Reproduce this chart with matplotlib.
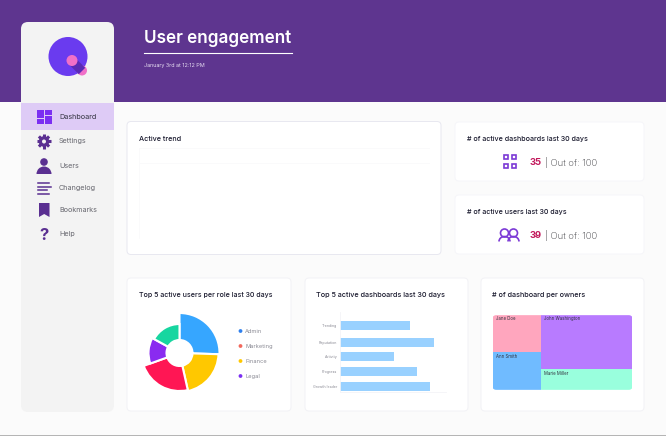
import numpy as np
import matplotlib
matplotlib.use('Agg')
import matplotlib.pyplot as plt
from matplotlib.patches import FancyBboxPatch, Rectangle, Circle, Polygon, Wedge, Arc

W, H = 666, 436
plt.rcParams['font.family'] = ['Inter', 'DejaVu Sans']

# pie
role_names = ['Admin', 'Finance', 'Marketing', 'Legal', 'Other']
role_values = [25.5, 21, 23, 13.5, 17]
role_radius = [40, 39, 38, 31, 29]
role_colors = ['#36A6FF', '#FFC800', '#FF1654', '#8A2BF0', '#17D6A0']
legend_names = ['Admin', 'Marketing', 'Finance', 'Legal']
legend_colors = ['#2F80ED', '#F2685C', '#FFC800', '#7B2FF2']

# bars
dash_names = ['Trending', 'Reputation', 'Activity', 'Progress', 'Growth leader']
dash_values = [70, 94, 54, 77, 90]

# treemap
owner_names = ['Jane Doe', 'Ann Smith', 'John Washington', 'Marie Miller']
owner_values = [18, 18.5, 50, 20]
owner_colors = ['#FFA6BE', '#70BBFF', '#B87BFF', '#99FFDD']

nav_items = ['Dashboard', 'Settings', 'Users', 'Changelog', 'Bookmarks', 'Help']
nav_y = [117, 141, 166, 188, 210, 234]

PURPLE = '#5E358F'
ICON = '#5A2F91'

fig = plt.figure(figsize=(W / 100, H / 100), dpi=100, facecolor='#FBFBFB')
bg = fig.add_axes([0, 0, 1, 1])
bg.set_xlim(0, W)
bg.set_ylim(H, 0)
bg.axis('off')


def inset(x0, y0, x1, y1, **kw):
    return fig.add_axes([x0 / W, 1 - y1 / H, (x1 - x0) / W, (y1 - y0) / H], **kw)


def rbox(x0, y0, x1, y1, r, fc, ec='none', lw=0.7, z=2):
    p = FancyBboxPatch((x0 + r, y0 + r), x1 - x0 - 2 * r, y1 - y0 - 2 * r,
                       boxstyle=f'round,pad={r}', fc=fc, ec=ec, lw=lw, zorder=z)
    bg.add_patch(p)
    return p


def card_title(x, y, s, size=5.05):
    bg.text(x, y, s, fontsize=size, color='#1A1A2E', weight='medium', va='center', zorder=5)


# шапка и нижняя линия
bg.add_patch(Rectangle((0, 0), W, 102, fc=PURPLE, ec='none', zorder=1))
bg.add_patch(Rectangle((0, 434.5), W, 2, fc='#B5B5B5', ec='none', zorder=1))
bg.text(144, 38.5, 'User engagement', fontsize=12.3, color='white', weight='semibold', va='center', zorder=5)
bg.plot([144, 291.5], [53, 53], color='white', lw=0.8, zorder=5)
bg.text(144, 65, 'January 3rd at 12:12 PM', fontsize=3.9, color='#E4DAF0', va='center', zorder=5)

# сайдбар
rbox(21, 22, 114, 412, 7, '#F3F3F3')
bg.add_patch(Rectangle((21, 102.5), 93, 27.5, fc='#DECBF6', ec='none', zorder=3))
bg.add_patch(Circle((68, 56.5), 19.5, fc='#6A3BEF', ec='none', zorder=3))
bg.add_patch(Circle((82, 70.5), 5, fc='#F070C8', ec='none', zorder=4))
bg.plot([72, 82], [61, 71], color='#5A2BB5', lw=6.5, solid_capstyle='butt', zorder=5)
bg.add_patch(Circle((72, 60.5), 5.5, fc='#F070C8', ec='none', zorder=6))

for name, y in zip(nav_items, nav_y):
    bg.text(59, y, name, fontsize=5.2, color='#333340' if name == 'Dashboard' else '#66666E',
            va='center', zorder=5)

# иконки меню
for x, y, w, h in [(37, 109.5, 7, 8), (45, 109.5, 7, 5), (37, 118.5, 7, 5), (45, 115.5, 7, 8)]:
    bg.add_patch(Rectangle((x, y), w, h, fc='#7B2FF2', ec='none', zorder=5))
for a in np.arange(0, 180, 45):
    dx, dy = 7.2 * np.cos(np.radians(a)), 7.2 * np.sin(np.radians(a))
    bg.plot([44 - dx, 44 + dx], [141.5 - dy, 141.5 + dy], color=ICON, lw=2.2, solid_capstyle='butt', zorder=5)
bg.add_patch(Circle((44, 141.5), 5.3, fc=ICON, ec='none', zorder=5))
bg.add_patch(Circle((44, 141.5), 2, fc='#F3F3F3', ec='none', zorder=6))
bg.add_patch(Circle((44, 162), 3.8, fc=ICON, ec='none', zorder=5))
bg.add_patch(Wedge((44, 174), 7.5, 180, 360, fc=ICON, ec='none', zorder=5))
for y, x1 in [(183.5, 49), (187, 51), (190.5, 47), (194, 49)]:
    bg.plot([38, x1], [y, y], color=ICON, lw=1.1, zorder=5)
bg.add_patch(Polygon([(39, 203), (49.5, 203), (49.5, 217), (44.2, 214), (39, 217)], fc=ICON, ec='none', zorder=5))
bg.text(44, 235, '?', fontsize=12, weight='bold', color=ICON, ha='center', va='center', zorder=5)

# карточки
rbox(127, 121.5, 441, 254.5, 4, 'white', '#E8E8F0')
rbox(455, 122, 644, 181, 4, 'white', '#F6F6F9')
rbox(455, 195, 644, 254, 4, 'white', '#F6F6F9')
for x0, x1 in [(127, 291), (305, 468), (481, 644)]:
    rbox(x0, 278, x1, 411, 4, 'white', '#F2F2F6')

card_title(139, 139, 'Active trend', 5.2)
card_title(467, 138.5, '# of active dashboards last 30 days', 5.1)
card_title(467, 211.5, '# of active users last 30 days', 5.1)
card_title(139, 295, 'Top 5 active users per role last 30 days')
card_title(316, 295, 'Top 5 active dashboards last 30 days', 5.2)
card_title(492, 295, '# of dashboard per owners', 5.2)

# пустой график тренда
trend = inset(139, 148.5, 430, 238)
trend.set_facecolor('none')
trend.set_xlim(0, 1)
trend.set_ylim(0, 6)
trend.set_yticks([6, 5])
trend.set_xticks([])
trend.tick_params(length=0, labelleft=False)
trend.grid(True, axis='y', color='#FAFAFB', lw=0.6)
for s in ['top', 'right', 'bottom']:
    trend.spines[s].set_visible(False)
trend.spines['left'].set_color('#FAFAFB')
trend.spines['left'].set_linewidth(0.6)

# KPI
for x, y in [(503.5, 155), (511.5, 155), (503.5, 163.5), (511.5, 163.5)]:
    bg.add_patch(Rectangle((x, y), 4.4, 4.4, fc='none', ec='#7C3AD6', lw=1.2, zorder=5))
for cx in [504.5, 513.5]:
    bg.add_patch(Circle((cx, 233), 4, fc='white', ec='#7C3AD6', lw=1.2, zorder=5))
    bg.add_patch(Arc((cx, 241.5), 11, 10, theta1=180, theta2=360, ec='#7C3AD6', lw=1.2, zorder=5))
for y, val in [(162, '35'), (235, '39')]:
    bg.text(530, y, val, fontsize=6.8, weight='bold', color='#C2185B', va='center', zorder=5)
    bg.text(545, y, '| Out of: 100', fontsize=6.8, color='#333338', weight='light', va='center', zorder=5)

# роза-пончик
pie = inset(179.5 - 42, 353 - 42, 179.5 + 42, 353 + 42, projection='polar')
pie.set_facecolor('none')
pie.set_theta_zero_location('N')
pie.set_theta_direction(-1)
widths = np.array(role_values) / sum(role_values) * 2 * np.pi
starts = np.concatenate([[0], np.cumsum(widths)[:-1]])
heights = np.array(role_radius) - 13
pie.bar(starts, heights, width=widths, bottom=13, align='edge', color=role_colors, edgecolor='white', linewidth=1.5)
pie.set_ylim(0, 42)
pie.axis('off')

for i, (name, c) in enumerate(zip(legend_names, legend_colors)):
    y = 331 + i * 15
    bg.add_patch(Circle((240.5, y), 1.9, fc=c, ec='none', zorder=5))
    bg.text(245, y, name, fontsize=4.1, color='#8A8A94', va='center', zorder=5)

# горизонтальные столбики
bars = inset(340, 312, 446, 392)
bars.set_facecolor('none')
bar_pos = [13, 30.7, 44, 59, 74.7]
bars.barh(bar_pos, dash_values, height=9, color='#99D1FF')
bars.set_xlim(0, 106)
bars.set_ylim(80, 0)
bars.set_yticks(bar_pos)
bars.set_yticklabels(dash_names, fontsize=2.6, color='#8A8A94')
bars.set_xticks([])
bars.tick_params(length=0, pad=2)
for s in ['top', 'right']:
    bars.spines[s].set_visible(False)
for s in ['left', 'bottom']:
    bars.spines[s].set_color('#F4F4F7')
    bars.spines[s].set_linewidth(0.6)

# treemap
tree = inset(493, 314, 632, 391)
tree.set_xlim(0, 1)
tree.set_ylim(1, 0)
tree.axis('off')
clip = FancyBboxPatch((0.02, 0.035), 0.96, 0.93, boxstyle='round,pad=0.02,rounding_size=0.025',
                      transform=tree.transData, fc='none', ec='none')
tree.add_patch(clip)
total = sum(owner_values)
left_w = (owner_values[0] + owner_values[1]) / total
right_w = 1 - left_w
top_l = owner_values[0] / (owner_values[0] + owner_values[1])
top_r = owner_values[2] / (owner_values[2] + owner_values[3])
cells = [(0, 0, left_w, top_l), (0, top_l, left_w, 1 - top_l),
         (left_w, 0, right_w, top_r), (left_w, top_r, right_w, 1 - top_r)]
for (x, y, w, h), c, name in zip(cells, owner_colors, owner_names):
    r = Rectangle((x, y), w, h, fc=c, ec='none')
    tree.add_patch(r)
    r.set_clip_path(clip)
    tree.text(x + 0.025, y + 0.06, name, fontsize=3.1, color='#333340', va='center')

fig.savefig('out.png', dpi=100, facecolor=fig.get_facecolor())
